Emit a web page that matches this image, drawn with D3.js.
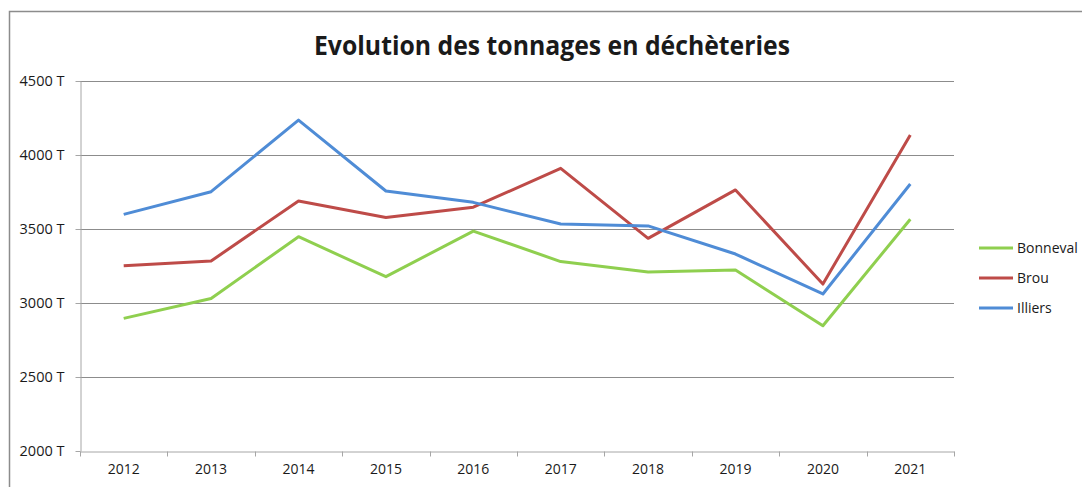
<!DOCTYPE html>
<html lang="fr">
<head>
    <meta charset="UTF-8">
    <title>Evolution des tonnages en déchèteries</title>
    <script src="https://cdn.jsdelivr.net/npm/d3@7"></script>
    <style>
        body { margin: 0; background: #ffffff; }
        text { font-family: "Open Sans", "Liberation Sans", sans-serif; fill: #1a1a1a; }
        .grid line { stroke: #8c8c8c; stroke-width: 1px; }
        .axis path, .axis line { stroke: #a6a6a6; }
        .serie { fill: none; stroke-width: 3px; stroke-linejoin: round; }
    </style>
</head>
<body>
    <div id="canvas"></div>

    <script>
        const years = ['2012', '2013', '2014', '2015', '2016', '2017', '2018', '2019', '2020', '2021'];
        const bonneval = [2896, 3030, 3448, 3178, 3486, 3280, 3210, 3223, 2846, 3566];
        const brou     = [3252, 3284, 3689, 3578, 3647, 3910, 3437, 3764, 3128, 4135];
        const illiers  = [3599, 3752, 4236, 3757, 3680, 3534, 3521, 3331, 3061, 3804];
        const yTicks = [2000, 2500, 3000, 3500, 4000, 4500];
        const seriesNames = ['Bonneval', 'Brou', 'Illiers'];
        const seriesColors = ['#8fcf4f', '#be4b48', '#4f8cd6'];

        const width = 1082;
        const height = 487;
        const plot = { left: 80, right: 954, top: 81, bottom: 451 };

        const svg = d3.select('#canvas')
            .append('svg')
            .attr('width', width)
            .attr('height', height);

        // chart frame
        svg.append('rect')
            .attr('x', 9.5)
            .attr('y', 11.5)
            .attr('width', width)
            .attr('height', height)
            .attr('fill', '#ffffff')
            .attr('stroke', '#8c8c8c')
            .attr('stroke-width', 1.5);

        const x = d3.scaleBand()
            .domain(years)
            .range([plot.left, plot.right]);

        const y = d3.scaleLinear()
            .domain([2000, 4500])
            .range([plot.bottom, plot.top]);

        // title
        svg.append('text')
            .attr('x', 552)
            .attr('y', 55)
            .attr('text-anchor', 'middle')
            .attr('font-size', 27)
            .attr('font-weight', 'bold')
            .attr('textLength', 476)
            .attr('lengthAdjust', 'spacingAndGlyphs')
            .text('Evolution des tonnages en déchèteries');

        // horizontal grid
        svg.append('g')
            .attr('class', 'grid')
            .selectAll('line')
            .data(yTicks.filter(d => d > 2000))
            .enter()
            .append('line')
            .attr('x1', plot.left)
            .attr('x2', plot.right)
            .attr('y1', d => Math.round(y(d)) + 0.5)
            .attr('y2', d => Math.round(y(d)) + 0.5);

        // y axis
        const yAxis = svg.append('g')
            .attr('class', 'axis')
            .attr('transform', `translate(${plot.left + 0.5},0)`)
            .call(d3.axisLeft(y).tickValues(yTicks).tickSize(5).tickPadding(11).tickSizeOuter(0).tickFormat(d => d + ' T'));
        yAxis.selectAll('text')
            .attr('font-size', 14.5)
            .style('fill', '#1a1a1a');

        // x axis
        const xAxis = svg.append('g')
            .attr('class', 'axis')
            .attr('transform', `translate(0,${plot.bottom + 0.5})`)
            .call(d3.axisBottom(x).tickSize(0).tickSizeOuter(0));
        xAxis.selectAll('text')
            .attr('font-size', 14)
            .attr('dy', 19.5)
            .style('fill', '#1a1a1a');

        // category separators
        xAxis.selectAll('.sep')
            .data(years.concat(['end']))
            .enter()
            .append('line')
            .attr('class', 'sep')
            .attr('x1', (d, i) => Math.round(plot.left + i * x.step()) + 0.5)
            .attr('x2', (d, i) => Math.round(plot.left + i * x.step()) + 0.5)
            .attr('y1', 0)
            .attr('y2', 5)
            .attr('stroke', '#a6a6a6');

        yAxis.select('.domain').attr('stroke', '#bfbfbf');
        xAxis.select('.domain').attr('stroke', '#a6a6a6');

        // lines
        const line = d3.line()
            .x((d, i) => x(years[i]) + x.bandwidth() / 2)
            .y(d => y(d));

        [bonneval, brou, illiers].forEach((values, i) => {
            svg.append('path')
                .attr('class', 'serie')
                .attr('d', line(values))
                .attr('stroke', seriesColors[i]);
        });

        // legend
        const legend = svg.append('g')
            .selectAll('g')
            .data(seriesNames)
            .enter()
            .append('g')
            .attr('transform', (d, i) => `translate(979,${248 + i * 30})`);

        legend.append('line')
            .attr('x1', 0)
            .attr('x2', 34)
            .attr('stroke', (d, i) => seriesColors[i])
            .attr('stroke-width', 3);

        legend.append('text')
            .attr('x', 38)
            .attr('y', 5)
            .attr('font-size', 14)
            .text(d => d);
    </script>
</body>
</html>
